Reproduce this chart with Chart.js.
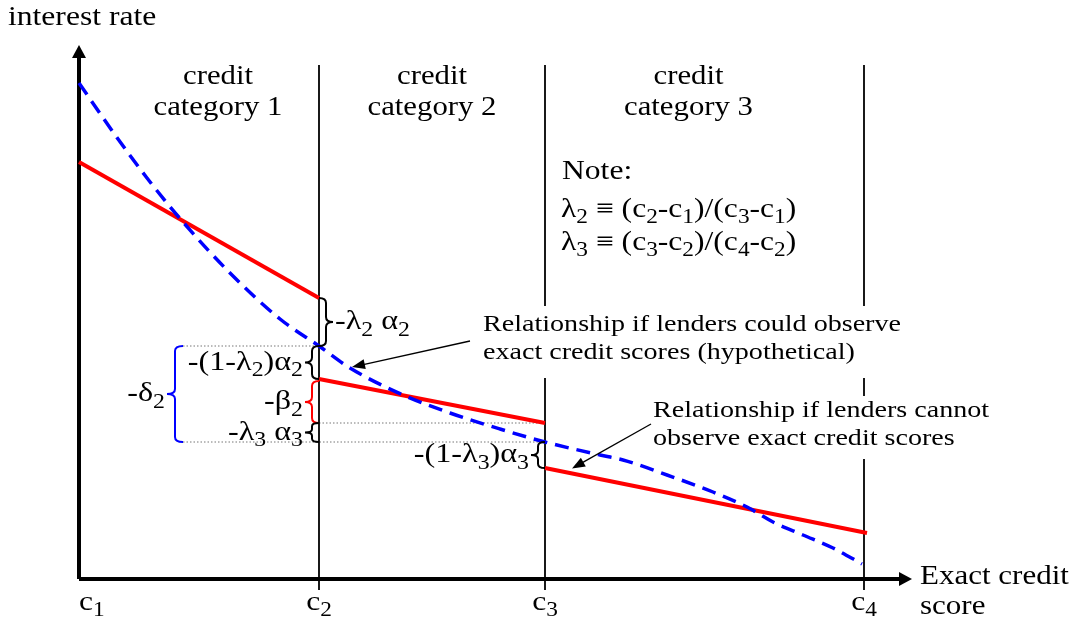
<!DOCTYPE html>
<html>
<head>
<meta charset="utf-8">
<script src="https://cdn.jsdelivr.net/npm/chart.js@4"></script>
<style>
  html, body { margin: 0; padding: 0; background: #fff; }
</style>
</head>
<body>
<canvas id="creditChart" width="1082" height="622"></canvas>
<script>
// Credit score cutoffs (c1..c4) on the x axis
const cutoffs = [0, 24.0, 46.6, 78.5];
const cutoffLabels = ['c_1', 'c_2', 'c_3', 'c_4'];

// Hypothetical relationship: lenders observe exact credit scores (blue dashed)
const blueX = [0, 3.4, 6.8, 10.4, 15.1, 20.1, 24.0, 27.1, 32.4, 37.1, 42.1, 46.6, 52.1, 54.4, 58.8, 63.4, 66.8, 69.4, 72.4, 75.4, 78.3];
const blueY = [49.6, 44.7, 40.1, 35.7, 30.6, 26.0, 23.3, 21.1, 18.4, 16.6, 15.0, 13.7, 12.4, 11.9, 10.4, 8.7, 7.2, 5.7, 4.4, 3.1, 1.5];

// Observed relationship: one red segment per credit category
const redStartX = [0, 24.0, 46.6];
const redEndX = [24.0, 46.6, 78.8];
const redStartY = [41.7, 20.0, 11.1];
const redEndY = [28.1, 15.6, 4.6];

// Axis extents
const xAxisEnd = 82.0;
const yAxisEnd = 52.2;
const dividerTop = 51.4;
const dividerBottom = -1.1;

const categoryNames = ['credit', 'category 1', 'category 2', 'category 3'];

const blueAtC2 = blueY[blueX.indexOf(cutoffs[1])];
const blueAtC3 = blueY[blueX.indexOf(cutoffs[2])];
const deltaX = 10.4; // where the -delta2 brace sits

const SX = 1.17; // original figure's text is stretched horizontally
const SUB = 0.74;
const FONT = '"Liberation Serif", "DejaVu Serif", serif';

function parse(s) {
    const parts = [];
    let buf = '';
    for (let i = 0; i < s.length; i++) {
        if (s[i] === '_') {
            if (buf) parts.push([buf, 0]);
            buf = '';
            parts.push([s[i + 1], 1]);
            i++;
        } else {
            buf += s[i];
        }
    }
    if (buf) parts.push([buf, 0]);
    return parts;
}

function drawRich(ctx, str, x, y, size, align, color) {
    const parts = parse(str);
    ctx.save();
    ctx.fillStyle = color || '#000';
    ctx.textBaseline = 'middle';
    ctx.textAlign = 'left';
    let w = 0;
    parts.forEach(([t, sub]) => {
        ctx.font = (sub ? size * SUB : size) + 'px ' + FONT;
        w += ctx.measureText(t).width;
    });
    w *= SX;
    const x0 = align === 'center' ? x - w / 2 : align === 'right' ? x - w : x;
    ctx.translate(x0, y);
    ctx.scale(SX, 1);
    let cx = 0;
    parts.forEach(([t, sub]) => {
        ctx.font = (sub ? size * SUB : size) + 'px ' + FONT;
        ctx.fillText(t, cx, sub ? size * 0.3 : 0);
        cx += ctx.measureText(t).width;
    });
    ctx.restore();
}

function brace(ctx, x, y1, y2, dir, w, color) {
    const m = (y1 + y2) / 2, h = w / 2, r = Math.min(5, (y2 - y1) / 6);
    ctx.save();
    ctx.strokeStyle = color;
    ctx.lineWidth = 2;
    ctx.beginPath();
    ctx.moveTo(x, y1);
    ctx.quadraticCurveTo(x + dir * h, y1, x + dir * h, y1 + r);
    ctx.lineTo(x + dir * h, m - r);
    ctx.quadraticCurveTo(x + dir * h, m, x + dir * w, m);
    ctx.quadraticCurveTo(x + dir * h, m, x + dir * h, m + r);
    ctx.lineTo(x + dir * h, y2 - r);
    ctx.quadraticCurveTo(x + dir * h, y2, x, y2);
    ctx.stroke();
    ctx.restore();
}

function arrow(ctx, x1, y1, x2, y2, len, half, width) {
    const a = Math.atan2(y2 - y1, x2 - x1);
    ctx.save();
    ctx.strokeStyle = '#000';
    ctx.fillStyle = '#000';
    ctx.lineWidth = width;
    ctx.beginPath();
    ctx.moveTo(x1, y1);
    ctx.lineTo(x2 - Math.cos(a) * len * 0.8, y2 - Math.sin(a) * len * 0.8);
    ctx.stroke();
    ctx.beginPath();
    ctx.moveTo(x2, y2);
    ctx.lineTo(x2 - Math.cos(a) * len - Math.sin(a) * half, y2 - Math.sin(a) * len + Math.cos(a) * half);
    ctx.lineTo(x2 - Math.cos(a) * len + Math.sin(a) * half, y2 - Math.sin(a) * len - Math.cos(a) * half);
    ctx.closePath();
    ctx.fill();
    ctx.restore();
}

// Braces marking the gaps at c2 and c3
const braces = [
    { x: cutoffs[1], top: redEndY[0], bot: blueAtC2, dir: 1, w: 14, color: '#000', label: '-λ_2 α_2' },
    { x: cutoffs[1], top: blueAtC2, bot: redStartY[1], dir: -1, w: 14, color: '#000', label: '-(1-λ_2)α_2' },
    { x: cutoffs[1], top: redStartY[1] - 0.2, bot: redEndY[1], dir: -1, w: 14, color: '#ff0000', label: '-β_2' },
    { x: cutoffs[1], top: redEndY[1], bot: blueAtC3, dir: -1, w: 14, color: '#000', label: '-λ_3 α_3' },
    { x: deltaX, top: blueAtC2, bot: blueAtC3, dir: -1, w: 16, color: '#0000ff', label: '-δ_2' },
    { x: cutoffs[2], top: blueAtC3, bot: redStartY[2], dir: -1, w: 14, color: '#000', label: '-(1-λ_3)α_3' }
];

const overlay = {
    id: 'overlay',
    afterDatasetsDraw(chart) {
        const ctx = chart.ctx;
        const xs = chart.scales.x, ys = chart.scales.y;
        const px = v => xs.getPixelForValue(v);
        const py = v => ys.getPixelForValue(v);

        // arrowheads on the axes
        ctx.fillStyle = '#000';
        ctx.beginPath();
        ctx.moveTo(px(0) - 7, py(yAxisEnd) + 1);
        ctx.lineTo(px(0), py(yAxisEnd) - 12);
        ctx.lineTo(px(0) + 7, py(yAxisEnd) + 1);
        ctx.closePath();
        ctx.fill();
        ctx.beginPath();
        ctx.moveTo(px(xAxisEnd), py(0) - 7);
        ctx.lineTo(px(xAxisEnd) + 13, py(0));
        ctx.lineTo(px(xAxisEnd), py(0) + 7);
        ctx.closePath();
        ctx.fill();

        // white boxes behind the two explanations
        ctx.fillStyle = '#fff';
        ctx.fillRect(474, 306, 432, 72);
        ctx.fillRect(645, 396, 352, 63);

        // braces and their labels
        braces.forEach(b => {
            const x = px(b.x), y1 = py(b.top), y2 = py(b.bot);
            brace(ctx, x, y1, y2, b.dir, b.w, b.color);
            const tip = x + b.dir * b.w;
            drawRich(ctx, b.label, tip + b.dir * 2, (y1 + y2) / 2, 27.5, b.dir > 0 ? 'left' : 'right');
        });

        // axis titles and tick labels
        drawRich(ctx, 'interest rate', 8, 18, 27, 'left');
        drawRich(ctx, 'Exact credit', 920, 577, 26.5, 'left');
        drawRich(ctx, 'score', 920, 607, 26.5, 'left');
        cutoffLabels.forEach((t, i) => {
            drawRich(ctx, t, px(cutoffs[i]), 603, 27, i === 0 ? 'left' : 'center');
        });

        // category headings
        for (let i = 0; i < 3; i++) {
            const cx = i === 0 ? 218 : (px(cutoffs[i]) + px(cutoffs[i + 1])) / 2 - (i === 2 ? 16 : 0);
            drawRich(ctx, categoryNames[0], cx, 77, 26.3, 'center');
            drawRich(ctx, categoryNames[i + 1], cx, 108, 26.3, 'center');
        }

        // note
        drawRich(ctx, 'Note:', 562, 172, 27, 'left');
        drawRich(ctx, 'λ_2 ≡ (c_2-c_1)/(c_3-c_1)', 561, 210, 27, 'left');
        drawRich(ctx, 'λ_3 ≡ (c_3-c_2)/(c_4-c_2)', 561, 243, 27, 'left');

        // explanations with arrows
        drawRich(ctx, 'Relationship if lenders could observe', 483, 325, 24, 'left');
        drawRich(ctx, 'exact credit scores (hypothetical)', 483, 353, 24, 'left');
        drawRich(ctx, 'Relationship if lenders cannot', 653, 411, 24, 'left');
        drawRich(ctx, 'observe exact credit scores', 653, 439, 24, 'left');

        arrow(ctx, 470, 341, px(blueX[7]) + 2, py(blueY[7]) - 1, 13, 5, 1.3);
        const tx = 49.3;
        const ty = redStartY[2] + (redEndY[2] - redStartY[2]) * (tx - redStartX[2]) / (redEndX[2] - redStartX[2]);
        arrow(ctx, 651, 424, px(tx), py(ty) - 5, 13, 5, 1.3);
    }
};

const common = { pointRadius: 0, fill: false, clip: false, borderCapStyle: 'butt' };

const datasets = [
    {
        ...common,
        data: blueX.map((x, i) => ({ x: x, y: blueY[i] })),
        borderColor: '#0000ff',
        borderWidth: 3.5,
        borderDash: [14, 8],
        cubicInterpolationMode: 'monotone',
        order: 0
    }
];

redStartX.forEach((x, i) => {
    datasets.push({
        ...common,
        data: [{ x: x, y: redStartY[i] }, { x: redEndX[i], y: redEndY[i] }],
        borderColor: '#ff0000',
        borderWidth: 4,
        order: 1
    });
});

cutoffs.slice(1).forEach(c => {
    datasets.push({
        ...common,
        data: [{ x: c, y: dividerBottom }, { x: c, y: dividerTop }],
        borderColor: '#000',
        borderWidth: 1.8,
        order: 2
    });
});

// axes
datasets.push({
    ...common,
    data: [{ x: 0, y: 0 }, { x: xAxisEnd, y: 0 }],
    borderColor: '#000',
    borderWidth: 4,
    order: 2
});
datasets.push({
    ...common,
    data: [{ x: 0, y: 0 }, { x: 0, y: yAxisEnd }],
    borderColor: '#000',
    borderWidth: 4,
    order: 2
});

// dotted guide lines
[
    [deltaX, cutoffs[1], blueAtC2],
    [cutoffs[1], cutoffs[2], redEndY[1]],
    [deltaX, cutoffs[2], blueAtC3]
].forEach(([x1, x2, y]) => {
    datasets.push({
        ...common,
        data: [{ x: x1, y: y }, { x: x2, y: y }],
        borderColor: '#777',
        borderWidth: 1,
        borderDash: [1.5, 2],
        order: 3
    });
});

new Chart(document.getElementById('creditChart'), {
    type: 'line',
    data: { datasets: datasets },
    options: {
        responsive: false,
        animation: false,
        devicePixelRatio: 1,
        layout: { padding: { left: 79, right: 170, top: 45, bottom: 31 } },
        scales: {
            x: { type: 'linear', min: 0, max: 83.3, display: false },
            y: { type: 'linear', min: -1.2, max: 53.4, display: false }
        },
        plugins: {
            legend: { display: false },
            tooltip: { enabled: false }
        }
    },
    plugins: [overlay]
});
</script>
</body>
</html>
